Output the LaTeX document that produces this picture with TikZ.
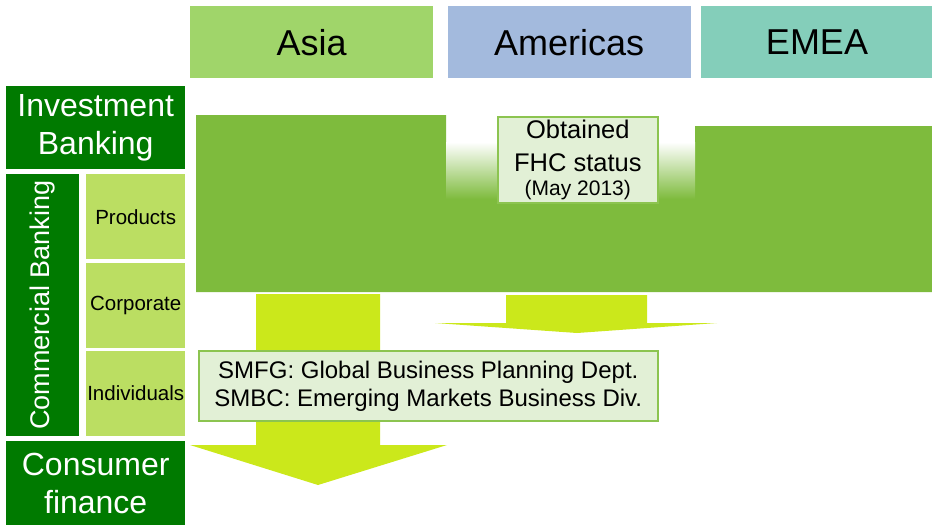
\documentclass[tikz,border=0pt]{standalone}
\usepackage{fontspec}
\setmainfont{Liberation Sans}
\usetikzlibrary{calc}
\usetikzlibrary{positioning}
\definecolor{asiagreen}{RGB}{160,213,106}
\definecolor{americasblue}{RGB}{163,186,221}
\definecolor{emeateal}{RGB}{132,206,186}
\definecolor{bankgreen}{RGB}{0,122,0}
\definecolor{segmentgreen}{RGB}{187,222,98}
\definecolor{regiongreen}{RGB}{126,187,61}
\definecolor{arrowlime}{RGB}{203,232,27}
\definecolor{notemint}{RGB}{226,240,214}
\definecolor{noteedge}{RGB}{140,196,80}
\tikzset{
  region/.style={minimum width=243pt, minimum height=72pt, inner sep=0pt, anchor=north west, font=\fontsize{36}{40}\selectfont},
  business/.style={fill=bankgreen, text=white, inner sep=0pt, align=center, anchor=north west, font=\fontsize{32}{38}\selectfont},
  segment/.style={fill=segmentgreen, minimum width=99pt, minimum height=85pt, inner sep=0pt, font=\fontsize{20.5}{24}\selectfont},
  note/.style={fill=notemint, draw=noteedge, line width=1.6pt, inner sep=0pt, align=center, anchor=north west}
}

\begin{document}
\begin{tikzpicture}[x=1pt, y=-1pt]
  \useasboundingbox (0,0) rectangle (932,525);

  \node [region, fill=asiagreen] (asia) at (190,6) {Asia};
  \node [region, fill=americasblue, right=14pt of asia] (americas) {Americas};
  \node [region, fill=emeateal, minimum width=232pt, right=10pt of americas] (emea) {EMEA};

  \node [business, minimum width=179pt, minimum height=83pt] (investment) at (6,86) {Investment\\Banking};
  \node [business, minimum width=73pt, minimum height=262pt] (commercial) at (6,174) {};
  \node [text=white, rotate=90, font=\fontsize{27}{30}\selectfont] (commerciallabel) at (commercial.center) {Commercial Banking};
  \node [business, minimum width=179pt, minimum height=84pt] (consumer) at (6,441) {Consumer\\finance};

  \node [segment, anchor=north west] (products) at (86,174) {Products};
  \node [segment, below=3pt of products] (corporate) {Corporate};
  \node [segment, below=3pt of corporate] (individuals) {Individuals};

  % regional coverage
  \fill [regiongreen] (196,115) -- (446,115) -- (446,198) -- (695,198) -- (695,126) -- (932,126) -- (932,292) -- (196,292) -- cycle;
  \shade [top color=white, bottom color=regiongreen] (446,142) rectangle (695,199);

  \node [note, minimum width=160pt, minimum height=86pt, font=\fontsize{25.5}{32.6}\selectfont] (fhc) at (497,116) {Obtained\\FHC status\\[-8.6pt]{\fontsize{21}{24}\selectfont (May 2013)}};

  \fill [arrowlime] (256,294) -- (380,294) -- (380,445) -- (447,445) -- (318,485) -- (190,445) -- (256,445) -- cycle;
  \fill [arrowlime] (506,295) -- (647,295) -- (647,323) -- (717,323) -- (577,333) -- (435,323) -- (506,323) -- cycle;

  \node [note, minimum width=459pt, minimum height=70pt, font=\fontsize{24}{28}\selectfont] (planning) at (198,350) {SMFG: Global Business Planning Dept.\\SMBC: Emerging Markets Business Div.};
\end{tikzpicture}
\end{document}
